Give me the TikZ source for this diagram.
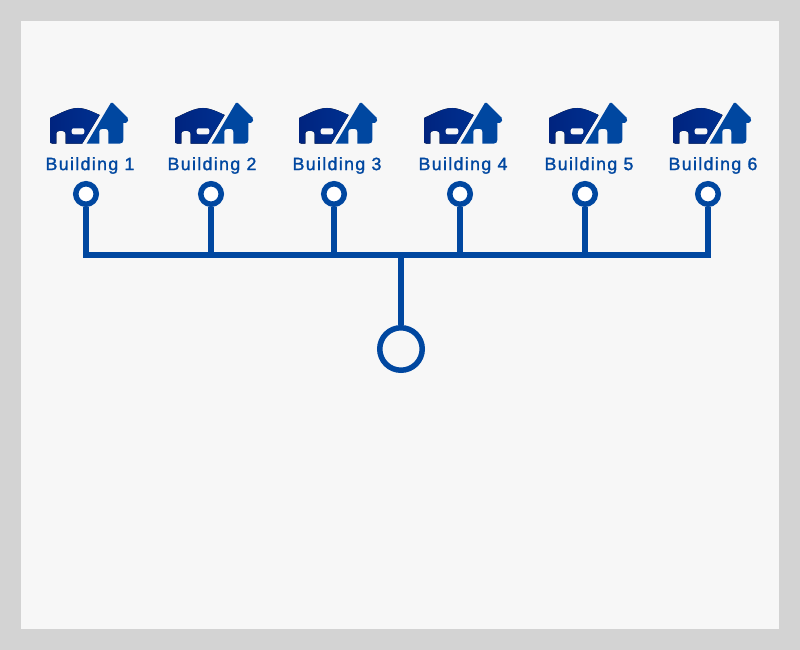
\documentclass[tikz,border=0pt]{standalone}
\usepackage{fontspec}
\setmainfont{Liberation Sans}
\newfontfamily\labelfont[LetterSpace=7.5,FakeBold=1.4]{Liberation Sans}
\definecolor{linkblue}{HTML}{0047A0}
\definecolor{navy}{HTML}{00247F}
\definecolor{navyb}{HTML}{003090}
\definecolor{pageback}{HTML}{D3D3D3}
\definecolor{panelback}{HTML}{F7F7F7}
\tikzset{
  x=1pt,y=-1pt,
  link/.style={draw=linkblue,line width=5.5pt,miter limit=10},
  smallring/.style={circle,draw=linkblue,line width=5.5pt,fill=white,minimum size=20.5pt,inner sep=0pt},
  bigring/.style={circle,draw=linkblue,line width=5.5pt,fill=panelback,minimum size=42.5pt,inner sep=0pt},
  blabel/.style={text=linkblue,font=\labelfont\fontsize{17.8}{18}\selectfont,inner sep=0pt,anchor=center},
  houseicon/.pic={
    \fill[left color=navy,right color=navyb]
      (0,16) .. controls (9,12) and (19,6) .. (28,6)
      .. controls (35,6) and (43,10) .. (49.7,13)
      -- (32.3,41.5) -- (15.5,41.5) -- (15.5,31.5)
      .. controls (15.5,29.8) and (14,29) .. (12.5,29)
      -- (9,29) .. controls (7.2,29) and (6.3,30) .. (6.3,31.5)
      -- (6.3,41.5) -- (2,41.5) .. controls (0.7,41.5) and (0,40.8) .. (0,39.5) -- cycle;
    \fill[panelback,rounded corners=2pt] (21.7,26.3) rectangle (34.3,32.3);
    \fill[linkblue]
      (36.7,41.5) -- (60.8,1) .. controls (61.3,0.2) and (62.2,0.2) .. (62.8,1)
      -- (77.5,15.5) .. controls (79,17.5) and (78,20.5) .. (76,20.8)
      -- (73.3,21) -- (73.3,38) .. controls (73.3,40.3) and (72,41.5) .. (70,41.5)
      -- (58.3,41.5) -- (58.3,29.5) .. controls (58.3,28) and (57.5,27) .. (56,27)
      -- (52,27) .. controls (50.3,27) and (49.3,28) .. (49.3,29.5)
      -- (49.3,41.5) -- cycle;
  },
}
\begin{document}
\begin{tikzpicture}
\useasboundingbox (0,0) rectangle (800,650);
\fill[pageback] (0,0) rectangle (800,650);
\fill[panelback] (21,21) rectangle (779,629);
% icons
\foreach \ix in {50,175,299,424,549,673} \pic at (\ix,102) {houseicon};
% labels
\node[blabel] (l1) at (90,165.5) {Building 1};
\node[blabel] (l2) at (212,165.5) {Building 2};
\node[blabel] (l3) at (337,165.5) {Building 3};
\node[blabel] (l4) at (463,165.5) {Building 4};
\node[blabel] (l5) at (589,165.5) {Building 5};
\node[blabel] (l6) at (713,165.5) {Building 6};
% junctions
\coordinate (j1) at (86,255);
\coordinate (j2) at (211,255);
\coordinate (j3) at (334,255);
\coordinate (j4) at (460,255);
\coordinate (j5) at (585,255);
\coordinate (j6) at (708,255);
\coordinate (jh) at (401,255);
% rings
\node[smallring] (n1) at (86,194) {};
\node[smallring] (n2) at (211,194) {};
\node[smallring] (n3) at (334,194) {};
\node[smallring] (n4) at (460,194) {};
\node[smallring] (n5) at (585,194) {};
\node[smallring] (n6) at (708,194) {};
\node[bigring] (hub) at (401,349) {};
% connectors
\draw[link] (n1.south) -- (j1) -- (j6) -- (n6.south);
\draw[link] (n2.south) -- (j2);
\draw[link] (n3.south) -- (j3);
\draw[link] (n4.south) -- (j4);
\draw[link] (n5.south) -- (j5);
\draw[link] (jh) -- (hub.north);
\end{tikzpicture}
\end{document}
